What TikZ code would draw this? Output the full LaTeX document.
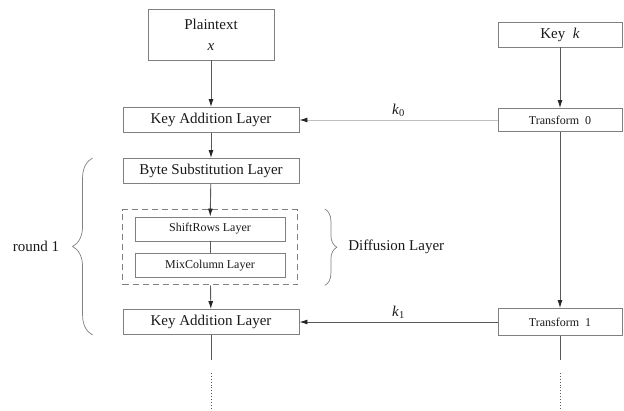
\documentclass[tikz,border=0pt]{standalone}
\usepackage{fontspec}
\setmainfont{Liberation Serif}
\usetikzlibrary{positioning,arrows.meta,fit,decorations.pathreplacing}
\definecolor{boxgray}{gray}{0.5}
\definecolor{linegray}{gray}{0.35}
\definecolor{txt}{gray}{0.1}
\tikzset{
  layer/.style={draw=boxgray,line width=0.9pt,text=txt,inner sep=0pt,
    font=\fontsize{15}{17}\selectfont,minimum width=176pt,minimum height=25pt},
  sublayer/.style={layer,font=\fontsize{12}{14}\selectfont,minimum width=150pt,minimum height=24pt},
  keybox/.style={layer,minimum width=124pt},
  trbox/.style={layer,font=\fontsize{12}{14}\selectfont,minimum width=124pt},
  plainbox/.style={layer,align=center,font=\fontsize{15}{21}\selectfont,minimum width=126pt,minimum height=51pt},
  dbox/.style={draw=boxgray,line width=0.9pt,dash pattern=on 6pt off 4pt,inner xsep=12pt,inner ysep=7pt},
  flow/.style={-{Latex[length=8pt,width=5pt,color=black!85]},line width=0.9pt,draw=linegray},
  faint/.style={flow,draw=black!25},
  cont/.style={line width=0.9pt,draw=linegray},
  cdots/.style={cont,dotted},
  brc/.style={decorate,decoration={brace,amplitude=#1},line width=0.7pt,draw=boxgray},
  lbl/.style={font=\fontsize{15}{17}\selectfont,text=txt,inner sep=0pt},
}

\begin{document}
\begin{tikzpicture}[x=1pt,y=-1pt]
  \useasboundingbox (0,0) rectangle (624,411);
  % data path
  \node[plainbox] (plain) at (211,34.5) {Plaintext\\\textit{x}};
  \node[layer] (kal0) at (211,120) {Key Addition Layer};
  \node[layer] (bsl) at (211,171) {Byte Substitution Layer};
  \node[sublayer] (srl) at (210,229) {ShiftRows Layer};
  \node[sublayer] (mcl) at (210,265.5) {MixColumn Layer};
  \node[dbox,fit=(srl)(mcl)] (diff) {};
  \node[layer] (kal1) at (211,322) {Key Addition Layer};
  % key schedule
  \node[keybox] (key) at (560,34.5) {Key\ \ \textit{k}};
  \node[trbox,minimum height=23pt] (tr0) at (560,120) {Transform\ \ 0};
  \node[trbox,minimum height=27pt] (tr1) at (560,322) {Transform\ \ 1};
  % connectors
  \draw[flow] (plain) -- (kal0);
  \draw[flow] (kal0) -- (bsl);
  \draw[flow] (bsl) -- (srl);
  \draw[cont] (srl) -- (mcl);
  \draw[flow] (diff) -- (kal1);
  \draw[flow] (key) -- (tr0);
  \draw[flow] (tr0) -- (tr1);
  \draw[faint] (tr0.west) -- node[above=3pt,lbl] (k0) {\textit{k}\textsubscript{0}} (kal0.east);
  \draw[flow] (tr1.west) -- node[above=3pt,lbl] (k1) {\textit{k}\textsubscript{1}} (kal1.east);
  % continuation
  \coordinate[below=25pt of kal1] (kal1tail);
  \coordinate[below=13pt of kal1tail] (kal1dot);
  \coordinate[below=38pt of kal1dot] (kal1end);
  \coordinate[below=24pt of tr1] (tr1tail);
  \coordinate[below=13pt of tr1tail] (tr1dot);
  \coordinate[below=38pt of tr1dot] (tr1end);
  \draw[cont] (kal1) -- (kal1tail);
  \draw[cdots] (kal1dot) -- (kal1end);
  \draw[cont] (tr1) -- (tr1tail);
  \draw[cdots] (tr1dot) -- (tr1end);
  % braces
  \draw[brc=20pt] ([xshift=-30pt]kal1.south west) -- ([xshift=-30pt]bsl.north west)
    node[midway,left=33pt,lbl] (rnd) {round 1};
  \draw[brc=12pt] ([xshift=27pt]diff.north east) -- ([xshift=27pt]diff.south east)
    node[midway,right=23pt,lbl] (dfl) {Diffusion Layer};
\end{tikzpicture}
\end{document}
